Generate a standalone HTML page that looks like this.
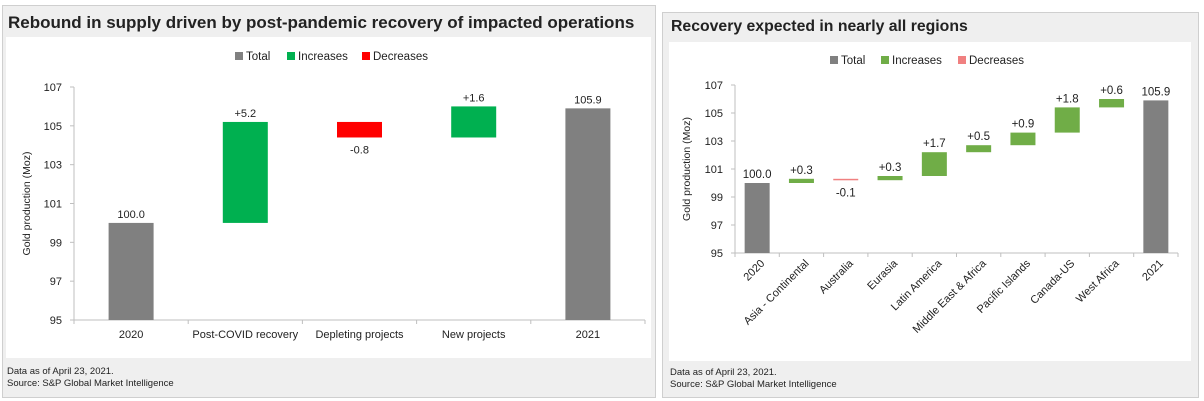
<!DOCTYPE html>
<html><head><meta charset="utf-8">
<style>
body{margin:0;width:1204px;height:401px;background:#fff;font-family:"Liberation Sans",sans-serif;overflow:hidden;position:relative}
.panel{position:absolute;background:#efefef;border:1px solid #cfcfcf}
.title{position:absolute;font-weight:bold;color:#222;white-space:nowrap}
.inner{position:absolute;background:#fff}
.foot{position:absolute;font-size:9.5px;color:#222;line-height:12px}
svg{position:absolute;left:0;top:0}
svg text{font-family:"Liberation Sans",sans-serif;fill:#222}
</style></head><body>
<div class="panel" style="left:2px;top:5px;width:652px;height:391px">
  <div class="title" style="left:5px;top:7px;font-size:17px">Rebound in supply driven by post-pandemic recovery of impacted operations</div>
  <div class="inner" style="left:3px;top:31px;width:645px;height:321px"></div>
  <div class="foot" style="left:4px;top:360px">Data as of April 23, 2021.<br>Source: S&amp;P Global Market Intelligence</div>
</div>
<div class="panel" style="left:662px;top:12px;width:535px;height:384px">
  <div class="title" style="left:8px;top:5px;font-size:15.8px">Recovery expected in nearly all regions</div>
  <div class="inner" style="left:6px;top:29px;width:522px;height:319px"></div>
  <div class="foot" style="left:7px;top:354px">Data as of April 23, 2021.<br>Source: S&amp;P Global Market Intelligence</div>
</div>
<svg id="chart" width="1204" height="401"></svg>
<script>
const leftCats=["2020","Post-COVID recovery","Depleting projects","New projects","2021"];
const leftVals=[100.0,5.2,-0.8,1.6,105.9];
const leftTypes=["total","inc","dec","inc","total"];
const leftLabels=["100.0","+5.2","-0.8","+1.6","105.9"];
const rightCats=["2020","Asia - Continental","Australia","Eurasia","Latin America","Middle East & Africa","Pacific Islands","Canada-US","West Africa","2021"];
const rightVals=[100.0,0.3,-0.1,0.3,1.7,0.5,0.9,1.8,0.6,105.9];
const rightTypes=["total","inc","dec","inc","inc","inc","inc","inc","inc","total"];
const rightLabels=["100.0","+0.3","-0.1","+0.3","+1.7","+0.5","+0.9","+1.8","+0.6","105.9"];
const yTicks=[95,97,99,101,103,105,107];

const NS="http://www.w3.org/2000/svg";
const svg=document.getElementById('chart');
function mk(tag,attrs,parent){const e=document.createElementNS(NS,tag);for(const k in attrs)e.setAttribute(k,attrs[k]);(parent||svg).appendChild(e);return e;}

function draw(cfg){
  const g=mk('g',{});
  
  
  const y=v=>cfg.y0-(v-95)/(107-95)*(cfg.y0-cfg.y1);
  const n=cfg.cats.length, bw=(cfg.x1-cfg.x0)/n;
  const xc=i=>cfg.x0+bw*(i+0.5);
  const ya=mk('line',{x1:cfg.x0,x2:cfg.x0,y1:cfg.y1,y2:cfg.y0,stroke:'#bfbfbf'},g);
  
  
  const xa=mk('line',{x1:cfg.x0,x2:cfg.x1,y1:cfg.y0,y2:cfg.y0,stroke:'#bfbfbf'},g);
  
  
  yTicks.forEach(t=>{
    mk('line',{x1:cfg.x0-4,x2:cfg.x0,y1:y(t),y2:y(t),stroke:'#bfbfbf'},g);
    const tx=mk('text',{x:cfg.x0-12,y:y(t)+4,'text-anchor':'end','font-size':11},g);
    tx.textContent=t;
    
    
  });
  for(let i=0;i<=n;i++) mk('line',{x1:cfg.x0+bw*i,x2:cfg.x0+bw*i,y1:cfg.y0,y2:cfg.y0+4,stroke:'#bfbfbf'},g);
  const yt=mk('text',{x:0,y:0,'text-anchor':'middle','font-size':10.5,transform:`translate(${cfg.ytx},${(cfg.y0+cfg.y1)/2}) rotate(-90)`},g);
  yt.textContent='Gold production (Moz)';
  
  
  let run=0;
  cfg.vals.forEach((v,i)=>{
    let lo,hi;
    if(cfg.types[i]==='total'){lo=95;hi=v;run=v;}
    else{const s=run;run=s+v;lo=Math.min(s,run);hi=Math.max(s,run);}
    const col=cfg.types[i]==='total'?'#808080':cfg.types[i]==='inc'?cfg.green:cfg.red;
    const h=Math.max(y(lo)-y(hi),1.5);
    const r=mk('rect',{x:xc(i)-cfg.barW/2,y:y(hi),width:cfg.barW,height:h,fill:col},g);
    
    
    const below=cfg.types[i]==='dec';
    const lt=mk('text',{x:xc(i),y:below?y(lo)+cfg.fs+5:y(hi)-5,'text-anchor':'middle','font-size':cfg.fs},g);
    lt.textContent=cfg.labels[i];
    
    
    let ct;
    if(cfg.rot){
      ct=mk('text',{x:0,y:0,'text-anchor':'end','font-size':11,transform:`translate(${xc(i)+8},${cfg.y0+11}) rotate(-45)`},g);
    } else {
      ct=mk('text',{x:xc(i),y:cfg.y0+18,'text-anchor':'middle','font-size':11},g);
    }
    ct.textContent=cfg.cats[i];
    
    
  });
  const items=[["Total",'#808080'],["Increases",cfg.green],["Decreases",cfg.red]];
  cfg.leg.forEach((lx,k)=>{
    const sq=mk('rect',{x:lx,y:cfg.legY-4,width:8,height:8,fill:items[k][1]},g);
    
    
    const t=mk('text',{x:lx+11,y:cfg.legY+4,'font-size':11.5},g);
    t.textContent=items[k][0];
    
    
  });
}
draw({name:'left',cats:leftCats,vals:leftVals,types:leftTypes,labels:leftLabels,x0:74,x1:645,y0:320,y1:87,barW:45,green:'#00b050',red:'#ff0000',fs:11,rot:false,ytx:30,legY:56,leg:[235,287,362]});
draw({name:'right',cats:rightCats,vals:rightVals,types:rightTypes,labels:rightLabels,x0:735,x1:1178,y0:253,y1:85,barW:25,green:'#70ad47',red:'#f08080',fs:11.5,rot:true,ytx:690,legY:60,leg:[830,881,958]});
</script>
</body></html>
